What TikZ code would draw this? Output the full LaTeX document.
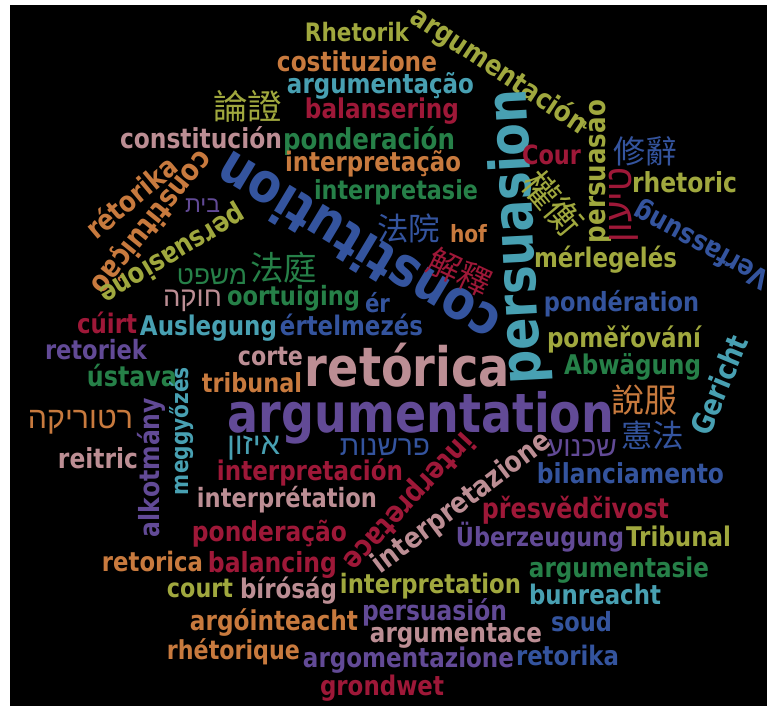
\documentclass[tikz,border=0pt]{standalone}
\usepackage{fontspec}
\usepackage{graphicx}
\TeXXeTstate=1
\newfontfamily\cloudfont{DejaVu Sans}[FakeStretch=0.85]
\newfontfamily\hebfont[Script=Hebrew]{Liberation Sans}
\newfontfamily\cjkfont{Noto Sans CJK TC}

% word colours
\definecolor{ygreen}{RGB}{160,168,62}
\definecolor{orng}{RGB}{200,122,62}
\definecolor{teal}{RGB}{72,160,178}
\definecolor{crim}{RGB}{158,24,56}
\definecolor{grn}{RGB}{38,128,72}
\definecolor{mauve}{RGB}{188,142,148}
\definecolor{blu}{RGB}{52,84,158}
\definecolor{purp}{RGB}{98,74,150}

% scale a word to a given width
\newcommand{\fitw}[2]{\resizebox{#1pt}{!}{#2}}
% thin faces for Hebrew and Chinese words
\newcommand{\heb}[1]{\hebfont\mdseries\beginR #1\endR}
\newcommand{\zh}[1]{\cjkfont\mdseries #1}

\tikzset{
  word/.style={inner sep=0pt, font=\cloudfont\bfseries},
}

\begin{document}
\begin{tikzpicture}[x=1pt,y=-1pt]

% frame and background
\useasboundingbox (0,0) rectangle (767,706);
\fill[black] (10,5) rectangle (767,706);

% top block
\node[word, text=ygreen] (rhetorik) at (357,32.5) {\fitw{104}{Rhetorik}};
\node[word, text=orng] (costituzione) at (357,61) {\fitw{160}{costituzione}};
\node[word, text=teal] (argumentacao) at (380.5,86) {\fitw{187}{argumentação}};
\node[word, text=ygreen] (lunzheng) at (247.5,106.5) {\fitw{69}{\zh{論證}}};
\node[word, text=crim] (balansering) at (382,111) {\fitw{154}{balansering}};
\node[word, text=mauve] (constitucion) at (201,137.5) {\fitw{162}{constitución}};
\node[word, text=grn] (ponderacion) at (369,141) {\fitw{172}{ponderación}};
\node[word, text=orng] (interpretacao) at (373,164) {\fitw{176}{interpretação}};
\node[word, text=grn] (interpretasie) at (396,192) {\fitw{164}{interpretasie}};
\node[word, text=ygreen, rotate=-33.5] (argumentacion) at (499,71) {\fitw{205}{argumentación}};

% big rotated words
\node[word, text=blu, rotate=149] (constitution) at (357,249) {\fitw{320}{constitution}};
\node[word, text=teal, rotate=93] (persuasion) at (518,237) {\fitw{295}{persuasion}};

% upper right
\node[word, text=crim] (cour) at (551.5,155) {\fitw{59}{Cour}};
\node[word, text=ygreen, rotate=-50] (quanheng) at (553,203) {\fitw{72}{\zh{權衡}}};
\node[word, text=ygreen, rotate=90] (persuasao) at (597,171.5) {\fitw{143}{persuasão}};
\node[word, text=blu] (xiuci) at (645,151.5) {\fitw{64}{\zh{修辭}}};
\node[word, text=crim, rotate=90] (tiun) at (624,205) {\fitw{74}{\heb{טיעון}}};
\node[word, text=ygreen] (rhetoric) at (684.5,182.5) {\fitw{105}{rhetoric}};
\node[word, text=blu, rotate=151.5] (verfassung) at (702,244) {\fitw{150}{Verfassung}};
\node[word, text=ygreen] (merlegeles) at (605.5,260) {\fitw{143}{mérlegelés}};
\node[word, text=blu] (ponderation) at (621.5,304) {\fitw{155}{pondération}};
\node[word, text=ygreen] (pomerovani) at (624,339) {\fitw{154}{poměřování}};
\node[word, text=grn] (abwagung) at (632.5,366.5) {\fitw{137}{Abwägung}};
\node[word, text=teal, rotate=67.5] (gericht) at (719,385) {\fitw{105}{Gericht}};
\node[word, text=orng] (shuofu) at (644,400) {\fitw{66}{\zh{說服}}};
\node[word, text=blu] (xianfa) at (652.5,435) {\fitw{63}{\zh{憲法}}};

% upper left
\node[word, text=orng, rotate=40] (retorika1) at (131,197) {\fitw{110}{rétorika}};
\node[word, text=orng, rotate=-129] (constituicao) at (151,222) {\fitw{175}{constituição}};
\node[word, text=ygreen, rotate=-149] (persuasione) at (172,254) {\fitw{165}{persuasione}};
\node[word, text=purp] (bayit) at (202.5,206) {\fitw{35}{\heb{בית}}};
\node[word, text=blu] (fayuan) at (408.5,228) {\fitw{63}{\zh{法院}}};
\node[word, text=orng] (hof) at (468.5,233.5) {\fitw{37}{hof}};
\node[word, text=crim, rotate=-25] (jieshi) at (460,272) {\fitw{66}{\zh{解釋}}};
\node[word, text=grn] (mishpat) at (212,277) {\fitw{70}{\heb{משפט}}};
\node[word, text=grn] (fating) at (283.5,267.5) {\fitw{67}{\zh{法庭}}};
\node[word, text=mauve] (hukah) at (192.5,301) {\fitw{59}{\heb{חוקה}}};
\node[word, text=grn] (oortuiging) at (293.5,298.5) {\fitw{133}{oortuiging}};
\node[word, text=blu] (er) at (377.5,302.5) {\fitw{25}{ér}};

% middle band
\node[word, text=crim] (cuirt) at (107,322.5) {\fitw{60}{cúirt}};
\node[word, text=teal] (auslegung) at (208.5,328.5) {\fitw{137}{Auslegung}};
\node[word, text=blu] (ertelmezes) at (351.5,325) {\fitw{143}{értelmezés}};
\node[word, text=purp] (retoriek) at (96,350) {\fitw{102}{retoriek}};
\node[word, text=mauve] (corte) at (270.5,357) {\fitw{65}{corte}};
\node[word, text=grn] (ustava) at (132,376) {\fitw{90}{ústava}};
\node[word, text=orng] (tribunal1) at (252,382.5) {\fitw{100}{tribunal}};
\node[word, text=mauve] (retorica1) at (407.5,365) {\fitw{205}{retórica}};
\node[word, text=purp] (argumentation) at (421,418) {\fitw{386}{argumentation}};
\node[word, text=teal, rotate=90] (meggyozes) at (182,431) {\fitw{128}{meggyőzés}};
\node[word, text=purp, rotate=90] (alkotmany) at (151,467.5) {\fitw{139}{alkotmány}};
\node[word, text=orng] (retorikah) at (80.5,422.5) {\fitw{105}{\heb{רטוריקה}}};
\node[word, text=mauve] (reitric) at (98,458.5) {\fitw{80}{reitric}};
\node[word, text=teal] (izun) at (253.5,448.5) {\fitw{53}{\heb{איזון}}};
\node[word, text=blu] (parshanut) at (385,447) {\fitw{90}{\heb{פרשנות}}};
\node[word, text=purp] (shihnua) at (582,448.5) {\fitw{70}{\heb{שכנוע}}};

% lower half
\node[word, text=blu] (bilanciamento) at (630.5,473.5) {\fitw{187}{bilanciamento}};
\node[word, text=crim] (interpretacion) at (310,472.5) {\fitw{186}{interpretación}};
\node[word, text=mauve] (interpretation1) at (287,499.5) {\fitw{180}{interprétation}};
\node[word, text=crim, rotate=-133] (interpretace) at (408,501) {\fitw{177}{interpretace}};
\node[word, text=mauve, rotate=37] (interpretazione) at (462,503) {\fitw{215}{interpretazione}};
\node[word, text=crim] (presvedcivost) at (575.5,510) {\fitw{187}{přesvědčivost}};
\node[word, text=crim] (ponderacao) at (269.5,534) {\fitw{155}{ponderação}};
\node[word, text=purp] (uberzeugung) at (540,537) {\fitw{168}{Überzeugung}};
\node[word, text=ygreen] (tribunal2) at (678.5,536.5) {\fitw{105}{Tribunal}};
\node[word, text=orng] (retorica2) at (152.5,562) {\fitw{101}{retorica}};
\node[word, text=crim] (balancing) at (272.5,565) {\fitw{129}{balancing}};
\node[word, text=grn] (argumentasie) at (619,570) {\fitw{180}{argumentasie}};
\node[word, text=ygreen] (court) at (200,588) {\fitw{66}{court}};
\node[word, text=mauve] (birosag) at (288.5,591) {\fitw{97}{bíróság}};
\node[word, text=ygreen] (interpretation2) at (430.5,586.5) {\fitw{181}{interpretation}};
\node[word, text=teal] (bunreacht) at (595,594) {\fitw{132}{bunreacht}};
\node[word, text=orng] (argointeacht) at (274,623) {\fitw{168}{argóinteacht}};
\node[word, text=purp] (persuasion2) at (434.5,612.5) {\fitw{145}{persuasión}};
\node[word, text=blu] (soud) at (581.5,622) {\fitw{61}{soud}};
\node[word, text=mauve] (argumentace) at (456,635.5) {\fitw{172}{argumentace}};
\node[word, text=orng] (rhetorique) at (233.5,651.5) {\fitw{133}{rhétorique}};
\node[word, text=purp] (argomentazione) at (408.5,660.5) {\fitw{211}{argomentazione}};
\node[word, text=blu] (retorika2) at (567.5,655) {\fitw{103}{retorika}};
\node[word, text=crim] (grondwet) at (382,688.5) {\fitw{124}{grondwet}};

\end{tikzpicture}
\end{document}
